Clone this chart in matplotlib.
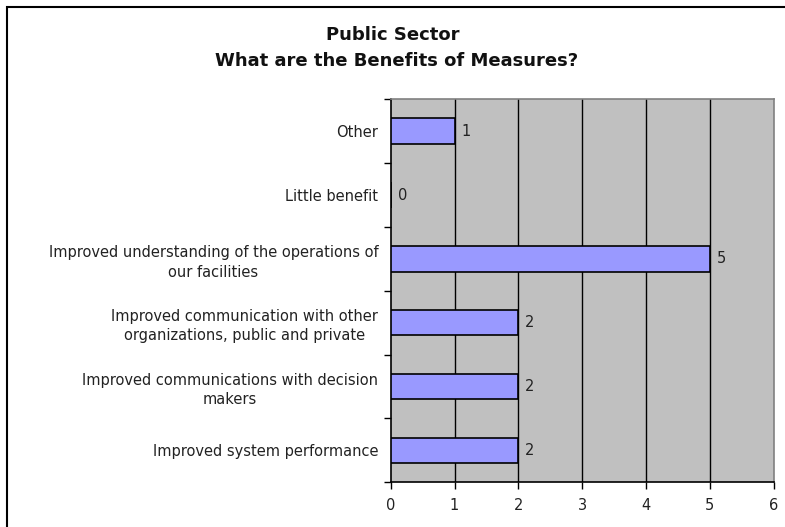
import matplotlib
matplotlib.use("Agg")
import matplotlib.pyplot as plt
from matplotlib.patches import Rectangle

categories = [
    "Improved system performance",
    "Improved communications with decision\nmakers",
    "Improved communication with other\norganizations, public and private",
    "Improved understanding of the operations of\nour facilities",
    "Little benefit",
    "Other",
]
values = [2, 2, 2, 5, 0, 1]
x_ticks = [0, 1, 2, 3, 4, 5, 6]
title_lines = ["Public Sector", "What are the Benefits of Measures?"]

W, H = 785, 527
fig = plt.figure(figsize=(W / 100, H / 100), dpi=100)
fig.patch.set_facecolor("white")

# outer chart frame
fig.patches.append(Rectangle((7 / W, -0.05), 1.1, (H - 7) / H + 0.05,
                             transform=fig.transFigure, fill=False,
                             edgecolor="black", linewidth=1.5))

left, right, top, bottom = 390.7, 773.5, 99.3, 482.3
ax = fig.add_axes([left / W, (H - bottom) / H, (right - left) / W, (bottom - top) / H])
ax.set_facecolor("#C0C0C0")

ypos = list(range(len(categories)))
ax.set_xlim(0, 6)
ax.set_ylim(-0.5, len(categories) - 0.5)

for x in x_ticks[1:-1]:
    ax.axvline(x, color="black", linewidth=1.0, zorder=1)

ax.barh(ypos, values, height=0.4, color="#9999FF", edgecolor="black",
        linewidth=1.2, zorder=3)

fs = 10.5
txt = "#222222"
for y, v in zip(ypos, values):
    ax.annotate(str(v), xy=(v, y), xytext=(5, 0), textcoords="offset points",
                ha="left", va="center", fontsize=fs, color=txt, zorder=4)

ax.set_xticks(x_ticks)
ax.set_xticklabels([str(t) for t in x_ticks], fontsize=fs, color=txt)
ax.set_yticks(ypos)
ax.set_yticklabels(categories, fontsize=fs, multialignment="center",
                   linespacing=1.35, color=txt)
ax.set_yticks([y + 0.5 for y in ypos[:-1]] + [-0.5, len(categories) - 0.5], minor=True)
ax.tick_params(axis="y", which="major", length=0, pad=9)
ax.tick_params(axis="y", which="minor", length=5, width=1, color="black", direction="out")
ax.tick_params(axis="x", which="major", length=5, width=1, direction="out", pad=6)

for s in ["left", "bottom"]:
    ax.spines[s].set_color("black")
    ax.spines[s].set_linewidth(1.2)
for s in ["top", "right"]:
    ax.spines[s].set_color("#808080")
    ax.spines[s].set_linewidth(1.2)

fig.text(393 / W, 1 - 34.5 / H, title_lines[0], ha="center", va="center",
         fontsize=13, fontweight="bold", color="#111111")
fig.text(397 / W, 1 - 61 / H, title_lines[1], ha="center", va="center",
         fontsize=13, fontweight="bold", color="#111111")

fig.savefig("out.png", dpi=100)
